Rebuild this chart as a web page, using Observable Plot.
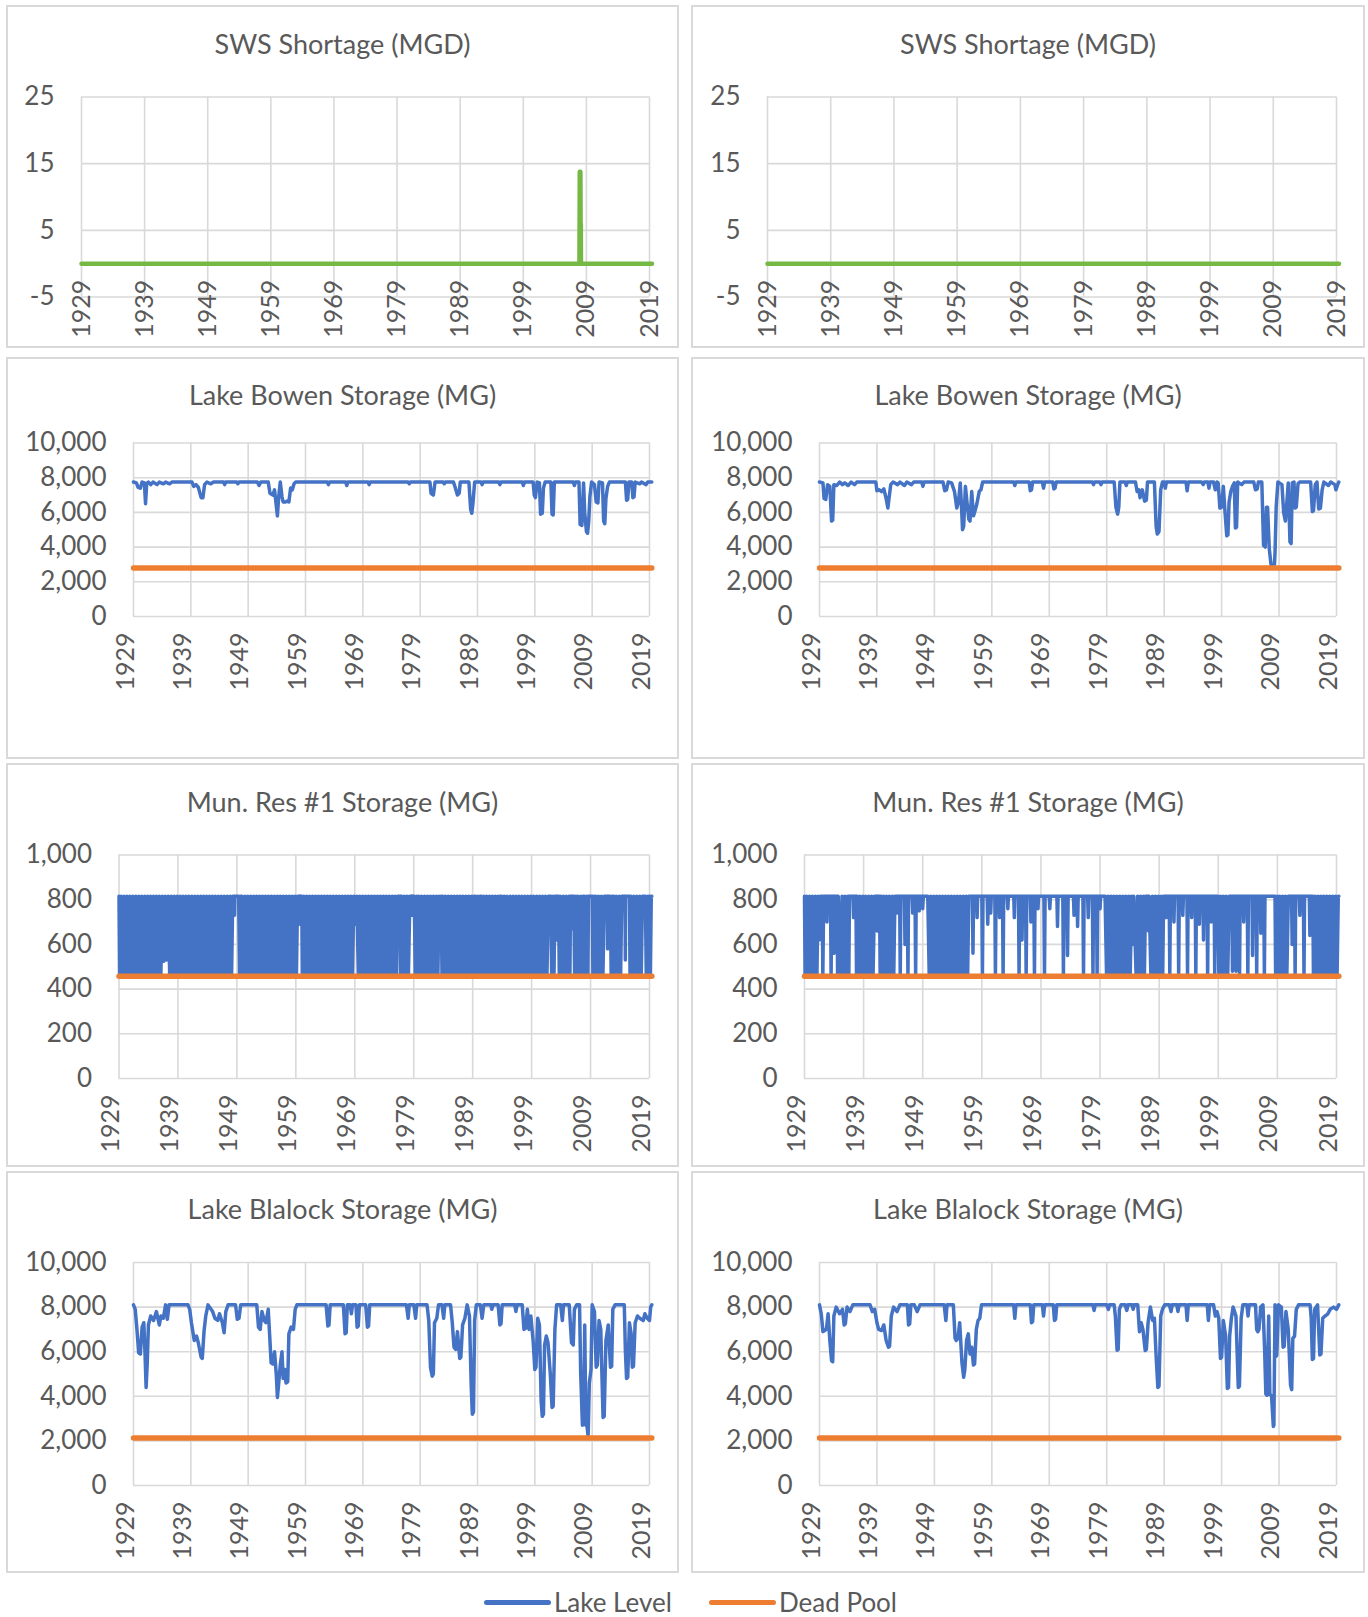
<!DOCTYPE html>
<html>
<head>
<meta charset="utf-8">
<script src="https://cdn.jsdelivr.net/npm/d3@7"></script>
<script src="https://cdn.jsdelivr.net/npm/@observablehq/plot@0.6"></script>
<style>
  html, body { margin: 0; padding: 0; background: #fff; }
  #root { position: relative; width: 1368px; height: 1617px; font-family: Lato, "Open Sans", sans-serif; color: #595959; }
  .box { position: absolute; border: 2px solid #d9d9d9; box-sizing: border-box; }
  .title { position: absolute; text-align: center; font-size: 27px; line-height: 34px; color: #595959; white-space: nowrap; }
  .legend-item { position: absolute; display: flex; align-items: center; font-size: 26px; color: #595959; }
  .swatch { width: 67px; height: 5px; border-radius: 3px; margin-right: 3px; }
</style>
</head>
<body>
<div id="root"></div>
<script>
// ---------- tick labels ----------
const yearTicks = [1929, 1939, 1949, 1959, 1969, 1979, 1989, 1999, 2009, 2019];
const swsTicks = [-5, 5, 15, 25];
const lakeTicks = [0, 2000, 4000, 6000, 8000, 10000];
const munTicks = [0, 200, 400, 600, 800, 1000];

// ---------- series names ----------
const seriesNames = ["Lake Level", "Dead Pool"];

// ---------- dead pool levels ----------
const bowenDeadPool = 2800;
const munDeadPool = 457;
const blalockDeadPool = 2130;
const seriesStart = 1929;
const seriesEnd = 2019.4;

// ---------- SWS shortage (MGD) ----------
const swsLeft = [[1929, 0], [2007.9, 0], [2007.95, 13.8], [2008.05, 13.8], [2008.08, 6], [2008.12, 6], [2008.14, 0], [2019.4, 0]];
const swsRight = [[1929, 0], [2019.4, 0]];

// ---------- Lake Bowen storage (MG) ----------
const bowenLeft = [
[1929.0,7750],[1929.5,7700],[1929.8,7450],[1930.2,7400],[1930.5,7750],[1930.9,7700],[1931.1,6500],[1931.3,7650],[1931.6,7750],[1932.0,7600],[1932.4,7750],[1933.1,7600],[1933.5,7750],[1934.2,7650],[1934.6,7750],[1935.3,7650],[1935.7,7750],
[1939.2,7750],[1939.5,7500],[1939.9,7600],[1940.3,7450],[1940.8,6850],[1941.1,6850],[1941.4,7600],[1941.8,7750],[1942.5,7650],[1942.9,7750],
[1944.7,7750],[1944.9,7600],[1945.1,7750],[1947.0,7750],[1947.2,7650],[1947.4,7750],
[1950.6,7750],[1950.9,7550],[1951.2,7750],[1952.5,7750],[1952.8,7100],[1953.3,7000],[1953.6,7300],[1953.9,6400],[1954.1,5800],[1954.3,6800],[1954.6,7750],[1954.9,6900],[1955.1,6600],[1955.5,6600],[1955.8,6650],[1956.1,6600],[1956.4,7400],[1956.7,7300],[1957.0,7650],[1957.3,7750],
[1962.8,7750],[1963.0,7600],[1963.2,7750],[1966.0,7750],[1966.2,7550],[1966.4,7750],[1969.9,7750],[1970.1,7600],[1970.3,7750],[1976.9,7750],[1977.1,7650],[1977.3,7750],
[1980.7,7750],[1980.9,7100],[1981.3,7000],[1981.6,7750],[1983.0,7750],[1983.2,7650],[1983.4,7750],
[1984.8,7750],[1985.1,7450],[1985.5,7000],[1985.8,7100],[1986.0,7750],[1987.5,7750],[1987.8,6200],[1988.0,5950],[1988.2,6500],[1988.5,7750],[1989.6,7750],[1989.8,7600],[1990.0,7750],
[1992.7,7750],[1992.9,7600],[1993.1,7750],[1996.8,7750],[1997.0,7550],[1997.2,7750],
[1998.7,7750],[1998.9,7000],[1999.1,6850],[1999.4,7750],[1999.8,7700],[2000.0,5900],[2000.3,5950],[2000.5,7400],[2000.8,7750],[2001.8,7750],[2002.0,5900],[2002.2,5850],[2002.4,7750],
[2005.7,7750],[2005.9,7550],[2006.1,7750],[2006.7,7750],[2006.9,5300],[2007.2,5250],[2007.5,7700],[2007.7,6000],[2008.0,4900],[2008.2,4800],[2008.4,5500],[2008.6,6900],[2008.9,7750],[2009.4,7600],[2009.7,6600],[2010.0,6550],[2010.2,7750],[2010.8,7700],[2011.0,5500],[2011.2,5350],[2011.4,6800],[2011.7,7500],[2012.0,7750],
[2014.8,7750],[2015.0,6700],[2015.2,6750],[2015.4,7750],[2015.9,7750],[2016.1,6850],[2016.3,6900],[2016.5,7750],[2017.3,7650],[2017.6,7750],[2018.4,7600],[2018.7,7750],[2019.4,7750]
];
const bowenRight = [
[1929.0,7750],[1929.6,7700],[1929.8,6800],[1930.1,6750],[1930.4,7600],[1930.8,7500],[1931.1,5500],[1931.3,5550],[1931.5,7600],[1932.0,7550],[1932.5,7750],[1933.0,7600],[1933.4,7700],[1934.0,7550],[1934.5,7750],[1935.1,7600],[1935.5,7750],
[1938.8,7750],[1939.0,7250],[1939.4,7300],[1939.8,7200],[1940.2,7350],[1940.6,6800],[1940.9,6250],[1941.1,6800],[1941.4,7600],[1941.8,7750],[1942.6,7600],[1943.0,7750],[1943.8,7550],[1944.2,7750],[1945.0,7600],[1945.4,7750],
[1946.8,7750],[1947.0,7500],[1947.2,7750],
[1950.5,7750],[1950.8,7250],[1951.1,7300],[1951.4,7750],[1952.0,7700],[1952.5,7200],[1952.9,6250],[1953.2,6600],[1953.5,7700],[1953.7,6500],[1953.9,5000],[1954.1,5200],[1954.4,7500],[1954.7,6500],[1955.0,5600],[1955.2,5500],[1955.5,7200],[1955.8,5800],[1956.0,6000],[1956.4,6500],[1956.8,7200],[1957.1,7300],[1957.4,7750],
[1962.8,7750],[1963.0,7550],[1963.2,7750],[1965.5,7750],[1965.7,7250],[1965.9,7300],[1966.1,7750],[1967.8,7750],[1968.0,7400],[1968.2,7750],[1969.6,7750],[1969.8,7350],[1970.0,7400],[1970.2,7750],
[1976.5,7750],[1976.7,7600],[1976.9,7750],[1977.8,7750],[1978.0,7600],[1978.2,7750],
[1980.3,7750],[1980.6,6300],[1980.9,5900],[1981.1,6300],[1981.3,7750],[1982.2,7750],[1982.4,7550],[1982.6,7750],[1984.0,7750],[1984.3,7200],[1984.6,7300],[1984.8,6850],[1985.2,7300],[1985.6,6650],[1985.9,6700],[1986.1,7750],[1987.3,7750],[1987.6,5200],[1987.8,4750],[1988.1,4900],[1988.4,7300],[1988.7,7750],[1989.0,7750],[1989.2,7400],[1989.4,7750],
[1992.8,7750],[1993.0,7250],[1993.2,7750],[1995.5,7750],[1995.8,7600],[1996.0,7750],[1996.6,7750],[1996.8,7400],[1997.0,7750],[1997.6,7750],[1997.9,7300],[1998.2,7750],[1998.4,7700],[1998.7,6250],[1999.0,6300],[1999.3,7500],[1999.6,6000],[1999.9,4650],[2000.1,4700],[2000.3,6600],[2000.6,7200],[2000.9,7500],[2001.2,7700],[2001.4,5100],[2001.6,5150],[2001.8,7750],[2002.5,7600],[2002.9,7750],
[2004.6,7750],[2004.9,7300],[2005.2,7350],[2005.4,7750],[2006.0,7750],[2006.3,4100],[2006.6,4000],[2006.8,6300],[2007.0,6300],[2007.3,3900],[2007.6,3000],[2008.0,2950],[2008.2,3000],[2008.3,3700],[2008.5,6300],[2008.8,7750],[2009.5,7600],[2009.8,6000],[2010.1,5500],[2010.3,6300],[2010.6,7700],[2010.9,4300],[2011.1,4200],[2011.3,7700],[2011.6,7750],[2011.8,6250],[2012.0,6300],[2012.3,7650],[2012.6,7750],
[2014.5,7750],[2014.8,6050],[2015.0,6100],[2015.3,7600],[2015.6,7750],[2015.9,6200],[2016.2,6250],[2016.5,7300],[2016.8,7750],[2017.6,7550],[2018.0,7750],[2018.7,7600],[2018.9,7300],[2019.2,7600],[2019.4,7750]
];

// ---------- Mun. Res #1 storage (MG): flat [year, level, year, level, ...] ----------
const munLeft = [
1929,815, 1929.1,462, 1929.35,815, 1929.6,462, 1929.85,815,
1930.1,462, 1930.35,815, 1930.6,462, 1930.85,815,
1931.1,462, 1931.35,815, 1931.6,462, 1931.85,815,
1932.1,462, 1932.35,815, 1932.6,462, 1932.85,815,
1933.1,462, 1933.35,815, 1933.6,462, 1933.85,815,
1934.1,462, 1934.35,815, 1934.6,462, 1934.85,815,
1935.1,462, 1935.35,815, 1935.6,462, 1935.85,815,
1936.1,462, 1936.35,815, 1936.6,525, 1936.85,815,
1937.1,530, 1937.35,815, 1937.6,462, 1937.85,815,
1938.1,462, 1938.35,815, 1938.6,462, 1938.85,815,
1939.1,462, 1939.35,815, 1939.6,462, 1939.85,815,
1940.1,462, 1940.35,815, 1940.6,462, 1940.85,815,
1941.1,462, 1941.35,815, 1941.6,462, 1941.85,815,
1942.1,462, 1942.35,815, 1942.6,462, 1942.85,815,
1943.1,462, 1943.35,815, 1943.6,462, 1943.85,815,
1944.1,462, 1944.35,815, 1944.6,462, 1944.85,815,
1945.1,462, 1945.35,815, 1945.6,462, 1945.85,815,
1946.1,462, 1946.35,815, 1946.6,462, 1946.85,815,
1947.1,462, 1947.35,815, 1947.6,462, 1947.85,815,
1948.1,462, 1948.3,815, 1948.55,815, 1948.6,730, 1948.65,815, 1949.3,815,
1949.45,462, 1949.6,815, 1949.75,462, 1949.85,815,
1950.1,462, 1950.35,815, 1950.6,462, 1950.85,815,
1951.1,462, 1951.35,815, 1951.6,462, 1951.85,815,
1952.1,462, 1952.35,815, 1952.6,462, 1952.85,815,
1953.1,462, 1953.35,815, 1953.6,462, 1953.85,815,
1954.1,462, 1954.35,815, 1954.6,462, 1954.85,815,
1955.1,462, 1955.35,815, 1955.6,462, 1955.85,815,
1956.1,462, 1956.35,815, 1956.6,462, 1956.85,815,
1957.1,462, 1957.35,815, 1957.6,462, 1957.85,815,
1958.1,462, 1958.35,815, 1958.6,462, 1958.85,815,
1959.1,462, 1959.3,815, 1959.65,815, 1959.7,690, 1959.75,815, 1960.0,815,
1960.1,462, 1960.35,815, 1960.6,462, 1960.85,815,
1961.1,462, 1961.35,815, 1961.6,462, 1961.85,815,
1962.1,462, 1962.35,815, 1962.6,462, 1962.85,815,
1963.1,462, 1963.35,815, 1963.6,462, 1963.85,815,
1964.1,462, 1964.35,815, 1964.6,462, 1964.85,815,
1965.1,462, 1965.35,815, 1965.6,462, 1965.85,815,
1966.1,462, 1966.35,815, 1966.6,462, 1966.85,815,
1967.1,462, 1967.35,815, 1967.6,462, 1967.85,815,
1968.1,462, 1968.35,815, 1968.6,462, 1968.85,815,
1969.1,690, 1969.35,815, 1969.6,462, 1969.85,815,
1970.1,462, 1970.35,815, 1970.6,462, 1970.85,815,
1971.1,462, 1971.35,815, 1971.6,462, 1971.85,815,
1972.1,462, 1972.35,815, 1972.6,462, 1972.85,815,
1973.1,462, 1973.35,815, 1973.6,462, 1973.85,815,
1974.1,462, 1974.35,815, 1974.6,462, 1974.85,815,
1975.1,462, 1975.35,815, 1975.6,462, 1975.85,815,
1976.1,462, 1976.3,815, 1976.7,815, 1976.8,462, 1976.9,815,
1977.1,462, 1977.35,815, 1977.6,462, 1977.85,815,
1978.1,462, 1978.35,815, 1978.7,815, 1978.75,730, 1978.8,815, 1979.1,815,
1979.25,462, 1979.5,815, 1979.65,462, 1979.85,815,
1980.1,462, 1980.35,815, 1980.6,462, 1980.85,815,
1981.1,462, 1981.35,815, 1981.6,462, 1981.85,815,
1982.1,462, 1982.35,815, 1982.6,462, 1982.85,815,
1983.1,462, 1983.3,815, 1983.45,650, 1983.65,815, 1983.8,462, 1983.9,815,
1984.1,462, 1984.35,815, 1984.6,462, 1984.85,815,
1985.1,462, 1985.35,815, 1985.6,462, 1985.85,815,
1986.1,462, 1986.35,815, 1986.6,462, 1986.85,815,
1987.1,462, 1987.35,815, 1987.6,462, 1987.85,815,
1988.1,462, 1988.35,815, 1988.6,462, 1988.85,815,
1989.1,462, 1989.25,815, 1989.45,815, 1989.6,462, 1989.85,815,
1990.1,462, 1990.25,815, 1990.45,815, 1990.6,462, 1990.85,815,
1991.1,462, 1991.35,815, 1991.6,462, 1991.85,815,
1992.1,462, 1992.35,815, 1992.6,462, 1992.85,815,
1993.1,462, 1993.35,815, 1993.6,462, 1993.7,815, 1993.9,815,
1994.1,462, 1994.35,815, 1994.6,462, 1994.85,815,
1995.1,462, 1995.35,815, 1995.6,462, 1995.85,815,
1996.1,462, 1996.35,815, 1996.6,462, 1996.85,815,
1997.1,462, 1997.35,815, 1997.6,462, 1997.85,815,
1998.1,462, 1998.35,815, 1998.6,462, 1998.85,815,
1999.1,462, 1999.35,815, 1999.6,462, 1999.85,815,
2000.1,462, 2000.35,815, 2000.6,462, 2000.85,815,
2001.1,462, 2001.35,815, 2001.6,462, 2001.85,815,
2002.25,815, 2002.4,462, 2002.6,815, 2002.8,462, 2002.95,815,
2003.15,815, 2003.2,620, 2003.25,815, 2003.55,815, 2003.7,462, 2003.85,815,
2004.1,462, 2004.35,815, 2004.6,462, 2004.85,815,
2005.1,462, 2005.35,815, 2005.5,462, 2005.6,815, 2005.85,815, 2005.9,670, 2005.95,815, 2006.15,815,
2006.3,462, 2006.5,815, 2006.7,462, 2006.85,815,
2007.1,462, 2007.35,815, 2007.6,462, 2007.75,815, 2007.95,815,
2008.1,462, 2008.35,815, 2008.55,462, 2008.65,815, 2009.3,815,
2009.4,462, 2009.6,815, 2009.8,462, 2009.9,815,
2010.1,462, 2010.35,815, 2010.6,462, 2010.85,815,
2011.1,462, 2011.35,815, 2011.85,815, 2011.9,580, 2011.95,815, 2012.35,815,
2012.5,462, 2012.7,815, 2012.85,462, 2012.95,815,
2013.1,462, 2013.35,815, 2013.6,462, 2013.85,815,
2014.1,462, 2014.3,815, 2014.85,815, 2014.9,530, 2014.95,815, 2015.6,815,
2015.7,462, 2015.85,815,
2016.1,462, 2016.35,815, 2016.6,462, 2016.85,815,
2017.1,462, 2017.35,815, 2017.6,462, 2017.8,815, 2018.3,815,
2018.45,462, 2018.7,815, 2018.85,462,
2019.0,815, 2019.15,462, 2019.3,815, 2019.4,815
];
const munRight = [
1929,815, 1929.1,462, 1929.35,815, 1929.6,462, 1929.85,815,
1930.1,462, 1930.35,815, 1930.6,462, 1930.85,815,
1931.1,462, 1931.3,815, 1931.5,620, 1931.7,815,
1932.0,815, 1932.1,462, 1932.25,815, 1932.7,815, 1932.8,700, 1932.9,815,
1933.4,815, 1933.5,462, 1933.6,815, 1933.9,815, 1934.0,560, 1934.1,815, 1934.5,815, 1934.6,462, 1934.7,815,
1935.1,462, 1935.35,815, 1935.6,462, 1935.85,815,
1936.1,462, 1936.35,815, 1936.5,462, 1936.6,815,
1937.2,815, 1937.3,720, 1937.4,815, 1937.7,815, 1937.8,462, 1937.9,815,
1938.2,462, 1938.35,815, 1938.6,462, 1938.85,815,
1939.1,462, 1939.35,815, 1939.6,462, 1939.85,815,
1940.1,462, 1940.35,815, 1940.6,462, 1940.85,815,
1941.2,815, 1941.3,660, 1941.4,815, 1941.7,815, 1941.8,462, 1941.95,815,
1942.1,462, 1942.35,815, 1942.6,462, 1942.85,815,
1943.1,462, 1943.35,815, 1943.6,462, 1943.85,815,
1944.1,462, 1944.3,815, 1944.5,815, 1944.6,740, 1944.7,815,
1945.1,815, 1945.2,462, 1945.3,815, 1945.9,815, 1946.0,600, 1946.1,815, 1946.4,815, 1946.5,462, 1946.6,815,
1947.2,815, 1947.3,740, 1947.4,815, 1947.7,815, 1947.8,462, 1947.9,815,
1948.3,815, 1948.4,750, 1948.5,815, 1948.9,815, 1949.0,760, 1949.1,815, 1949.85,815,
1950.1,462, 1950.35,815, 1950.6,462, 1950.85,815,
1951.1,462, 1951.35,815, 1951.6,462, 1951.85,815,
1952.1,462, 1952.35,815, 1952.6,462, 1952.85,815,
1953.1,462, 1953.35,815, 1953.6,462, 1953.85,815,
1954.1,462, 1954.35,815, 1954.6,462, 1954.85,815,
1955.1,462, 1955.35,815, 1955.6,462, 1955.85,815,
1956.1,462, 1956.35,815, 1956.6,462, 1956.8,815,
1957.4,815, 1957.5,560, 1957.6,815, 1958.1,815, 1958.2,720, 1958.3,815,
1959.0,815, 1959.1,462, 1959.2,815, 1959.9,815, 1960.0,690, 1960.1,815, 1960.4,815, 1960.5,740, 1960.6,815,
1961.2,815, 1961.3,462, 1961.4,815, 1961.9,815, 1962.0,720, 1962.1,815, 1962.5,815, 1962.6,462, 1962.7,815,
1963.3,815, 1963.4,760, 1963.5,815, 1964.4,815, 1964.5,720, 1964.6,815,
1965.2,815, 1965.3,462, 1965.4,815, 1965.7,815, 1965.8,620, 1965.9,815, 1966.4,815, 1966.5,462, 1966.6,815,
1967.2,815, 1967.3,700, 1967.4,815, 1967.8,815, 1967.9,462, 1968.0,815, 1968.4,815, 1968.5,760, 1968.6,815,
1969.5,815, 1969.6,462, 1969.7,815, 1970.4,815, 1970.5,760, 1970.6,815,
1971.7,815, 1971.8,680, 1971.9,815, 1972.7,815, 1972.8,462, 1972.9,815,
1973.4,815, 1973.5,550, 1973.6,815, 1974.5,815, 1974.6,730, 1974.7,815, 1975.1,815, 1975.2,680, 1975.3,815,
1976.1,815, 1976.2,462, 1976.3,815, 1976.9,815, 1977.0,720, 1977.1,815, 1977.7,815, 1977.8,462, 1977.9,815,
1978.4,815, 1978.5,462, 1978.6,815, 1978.9,815, 1979.0,760, 1979.1,815, 1979.85,815,
1980.1,462, 1980.35,815, 1980.6,462, 1980.85,815,
1981.1,462, 1981.35,815, 1981.6,462, 1981.85,815,
1982.1,462, 1982.35,815, 1982.6,462, 1982.85,815,
1983.1,462, 1983.35,815, 1983.6,462, 1983.85,815,
1984.1,462, 1984.35,815, 1984.5,600, 1984.7,815,
1985.1,462, 1985.35,815, 1985.6,462, 1985.85,815,
1986.1,462, 1986.35,815, 1986.5,462, 1986.7,815,
1987.1,815, 1987.2,660, 1987.3,815, 1987.6,462, 1987.85,815,
1988.1,462, 1988.35,815, 1988.6,462, 1988.85,815,
1989.1,462, 1989.35,815, 1989.6,462, 1989.75,815,
1990.1,815, 1990.2,720, 1990.3,815, 1990.7,815, 1990.8,462, 1990.9,815,
1991.4,815, 1991.5,700, 1991.6,815, 1992.2,815, 1992.3,462, 1992.4,815,
1992.9,815, 1993.0,730, 1993.1,815, 1993.7,815, 1993.8,462, 1993.9,815,
1994.4,815, 1994.5,720, 1994.6,815, 1995.1,815, 1995.2,462, 1995.3,815,
1995.7,815, 1995.8,690, 1995.9,815, 1996.4,815, 1996.5,620, 1996.6,815,
1997.1,815, 1997.2,462, 1997.3,815, 1997.7,815, 1997.8,700, 1997.9,815, 1998.3,815, 1998.4,462, 1998.5,815,
1998.9,815, 1999.1,462, 1999.35,815, 1999.6,462, 1999.85,815,
2000.1,462, 2000.35,815, 2000.6,462, 2000.85,815,
2001.3,815, 2001.4,480, 2001.5,815, 2001.9,815, 2002.0,480, 2002.1,815, 2002.5,815, 2002.6,462, 2002.7,815,
2003.2,815, 2003.3,700, 2003.4,815, 2003.9,815, 2004.0,462, 2004.1,815, 2004.7,815, 2004.8,550, 2004.9,815,
2005.4,815, 2005.5,462, 2005.6,815, 2006.1,815, 2006.2,650, 2006.3,815, 2006.7,815, 2006.8,462, 2006.9,815,
2008.6,815, 2008.7,470, 2008.95,815,
2009.1,470, 2009.35,815, 2009.6,462, 2009.85,815,
2010.1,462, 2010.35,815, 2010.6,462, 2010.85,815,
2011.4,815, 2011.5,600, 2011.6,815, 2011.9,815, 2012.0,462, 2012.1,815, 2012.7,815, 2012.8,730, 2012.9,815,
2013.4,815, 2013.5,462, 2013.6,815, 2014.4,815, 2014.5,640, 2014.6,815,
2015.0,815, 2015.1,462, 2015.35,815, 2015.6,462, 2015.85,815,
2016.1,462, 2016.35,815, 2016.6,462, 2016.85,815,
2017.1,462, 2017.35,815, 2017.6,462, 2017.85,815,
2018.1,462, 2018.35,815, 2018.6,462, 2018.85,815,
2019.1,462, 2019.3,815, 2019.4,815
];

// ---------- Lake Blalock storage (MG) ----------
const blalockLeft = [
[1929.0,8100],[1929.3,7900],[1929.6,7000],[1929.9,5950],[1930.2,5900],[1930.5,7100],[1930.8,7300],[1931.0,6000],[1931.2,4400],[1931.4,5500],[1931.6,7200],[1932.0,7600],[1932.5,7400],[1933.0,7800],[1933.5,7200],[1933.8,7600],[1934.2,7500],[1934.6,8100],[1934.9,7450],[1935.2,8100],
[1938.5,8100],[1938.8,7900],[1939.1,7300],[1939.6,6500],[1940.0,6700],[1940.3,6400],[1940.8,5750],[1941.0,5700],[1941.3,6900],[1941.6,7600],[1942.0,8100],[1942.8,7800],[1943.2,7500],[1943.7,7400],[1944.0,7700],[1944.5,7300],[1944.8,6850],[1945.1,7800],[1945.5,8100],[1946.8,8100],[1947.1,7450],[1947.4,7500],[1947.7,8100],
[1950.5,8100],[1950.8,7100],[1951.1,7000],[1951.4,7800],[1951.8,7400],[1952.1,7300],[1952.5,7900],[1952.8,6500],[1953.0,5500],[1953.3,5450],[1953.6,6000],[1953.9,5000],[1954.1,3950],[1954.3,4500],[1954.6,5400],[1954.9,6000],[1955.1,4800],[1955.4,5200],[1955.6,4600],[1955.9,4650],[1956.1,6800],[1956.5,7100],[1956.9,7000],[1957.2,7900],[1957.5,8100],
[1962.6,8100],[1962.9,7150],[1963.1,7200],[1963.3,8100],[1965.6,8100],[1965.9,6800],[1966.1,6850],[1966.3,8100],[1966.8,8100],[1967.0,7700],[1967.2,8100],[1967.8,8100],[1968.0,7100],[1968.2,7150],[1968.4,8100],[1969.5,8100],[1969.8,7100],[1970.0,7150],[1970.2,8100],
[1976.6,8100],[1976.9,7500],[1977.1,8100],[1977.9,8100],[1978.2,7500],[1978.4,8100],
[1980.2,8100],[1980.5,7400],[1980.8,5300],[1981.1,4900],[1981.3,5000],[1981.5,7300],[1981.9,7500],[1982.2,8100],[1982.8,8100],[1983.1,7500],[1983.3,8100],[1984.3,8100],[1984.6,7300],[1984.9,6200],[1985.2,6100],[1985.5,6900],[1985.9,5700],[1986.1,5750],[1986.4,7200],[1986.8,7500],[1987.2,8100],[1987.6,7600],[1987.9,4500],[1988.1,3200],[1988.3,3300],[1988.5,7400],[1988.8,8100],[1989.5,8100],[1989.8,7500],[1990.1,8100],[1991.3,8100],[1991.5,7900],[1991.7,8100],
[1992.6,8100],[1992.9,7200],[1993.1,7250],[1993.3,8100],[1995.5,8100],[1995.7,7800],[1995.9,8100],[1996.8,8100],[1997.1,7000],[1997.4,7050],[1997.7,7900],[1998.0,7000],[1998.3,7600],[1998.7,6500],[1999.0,5200],[1999.2,5300],[1999.5,7500],[1999.8,7200],[2000.1,3800],[2000.3,3100],[2000.5,3200],[2000.7,6300],[2001.0,6700],[2001.3,6400],[2001.7,5000],[2002.0,3500],[2002.2,3550],[2002.5,7000],[2002.8,8100],[2003.5,8100],[2003.8,7400],[2004.0,8100],[2005.0,8100],[2005.4,6400],[2005.7,6300],[2005.9,7900],[2006.3,8100],
[2006.8,8100],[2007.0,5000],[2007.3,2700],[2007.5,2750],[2007.7,7200],[2007.9,2700],[2008.1,2650],[2008.3,2200],[2008.5,4600],[2008.8,5200],[2009.0,8100],[2009.4,7800],[2009.7,5300],[2009.9,5400],[2010.2,7400],[2010.5,7000],[2010.9,3050],[2011.1,3100],[2011.4,6500],[2011.8,7200],[2012.2,5300],[2012.4,5350],[2012.6,7900],[2013.0,8100],
[2014.6,8100],[2014.8,6000],[2015.0,4800],[2015.2,4850],[2015.5,7300],[2015.8,6800],[2016.0,5300],[2016.2,5350],[2016.5,7300],[2016.9,7600],[2017.3,7500],[2017.9,7400],[2018.2,7700],[2018.6,7500],[2019.0,7400],[2019.2,8000],[2019.4,8100]
];
const blalockRight = [
[1929.0,8100],[1929.3,7700],[1929.6,6900],[1929.9,6950],[1930.2,7000],[1930.5,7700],[1930.8,6500],[1931.1,5600],[1931.3,5550],[1931.5,7600],[1931.9,8000],[1932.5,7700],[1933.0,7900],[1933.3,7200],[1933.5,7250],[1933.8,8000],[1934.3,7800],[1934.8,8100],
[1937.8,8100],[1938.2,7800],[1938.6,7900],[1939.0,7300],[1939.3,7000],[1939.8,6950],[1940.2,7200],[1940.6,6500],[1941.0,6200],[1941.2,6250],[1941.5,7600],[1941.9,8000],[1942.5,7800],[1943.0,8100],[1944.3,8100],[1944.5,7200],[1944.7,7250],[1944.9,8100],[1945.5,8100],[1946.0,7800],[1946.5,8100],
[1950.7,8100],[1951.0,7400],[1951.2,8100],[1952.3,8100],[1952.6,6600],[1952.8,6500],[1953.1,6600],[1953.4,7300],[1953.8,5500],[1954.1,4850],[1954.3,5200],[1954.6,6500],[1954.9,6800],[1955.2,5900],[1955.5,6200],[1955.8,5400],[1956.0,5450],[1956.3,7000],[1956.6,7400],[1956.9,7500],[1957.2,8100],
[1962.8,8100],[1963.0,7500],[1963.2,8100],[1965.7,8100],[1965.9,7300],[1966.1,7350],[1966.3,8100],[1967.8,8100],[1968.0,7600],[1968.2,8100],[1969.7,8100],[1969.9,7400],[1970.1,7450],[1970.3,8100],
[1976.6,8100],[1976.8,7850],[1977.0,8100],[1979.0,8100],[1979.3,7900],[1979.5,8100],[1980.3,8100],[1980.5,7600],[1980.8,6070],[1981.0,6100],[1981.2,7900],[1981.5,8100],[1982.2,8100],[1982.5,7850],[1982.7,8100],[1983.4,8100],[1983.6,7900],[1983.8,8100],
[1984.4,8100],[1984.7,6900],[1985.0,7300],[1985.3,7000],[1985.7,6050],[1985.9,6100],[1986.2,7300],[1986.6,8000],[1987.0,7400],[1987.3,7500],[1987.6,5800],[1987.9,4400],[1988.1,4450],[1988.4,7600],[1988.7,7900],[1989.1,8100],[1989.9,8100],[1990.2,7800],[1990.4,8100],[1991.2,8100],[1991.4,7800],[1991.6,8100],
[1992.8,8100],[1993.0,7400],[1993.2,8100],[1996.5,8100],[1996.7,7400],[1996.9,8100],[1997.6,8100],[1997.9,7600],[1998.2,7800],[1998.5,7500],[1998.8,5700],[1999.0,5750],[1999.3,7400],[1999.7,6700],[2000.0,4350],[2000.2,4400],[2000.4,6700],[2000.7,7500],[2001.0,8000],[2001.5,7600],[2001.9,4400],[2002.1,4450],[2002.4,7500],[2002.7,8100],[2003.4,8100],[2003.6,7600],[2003.8,8100],
[2004.9,8100],[2005.1,7000],[2005.3,6900],[2005.5,7000],[2005.8,8000],[2006.2,8100],[2006.5,6000],[2006.7,4100],[2006.9,4050],[2007.2,7600],[2007.4,4100],[2007.7,4000],[2008.0,2650],[2008.1,2700],[2008.3,8100],[2008.5,5800],[2008.6,5850],[2008.9,8100],[2009.4,8000],[2009.7,6200],[2009.9,6250],[2010.2,7800],[2010.6,7000],[2011.0,4500],[2011.2,4300],[2011.4,6600],[2011.7,6700],[2012.0,7900],[2012.4,8100],
[2014.4,8100],[2014.6,7500],[2014.8,5650],[2015.0,5700],[2015.2,7900],[2015.7,8100],[2016.1,5850],[2016.3,5900],[2016.6,7500],[2017.0,7600],[2017.5,7700],[2017.9,7900],[2018.5,8000],[2019.0,7900],[2019.4,8100]
];

// ---------- styling ----------
const COLORS = { level: "#4472C4", dead: "#ED7D31", sws: "#75B843", grid: "#d9d9d9", text: "#595959" };
const fmtComma = d3.format(",");
const fmt = d => (d < 0 ? "-" + fmtComma(-d) : fmtComma(d));
const pairs = flat => { const out = []; for (let i = 0; i < flat.length; i += 2) out.push([flat[i], flat[i + 1]]); return out; };

// layout (page pixels)
const colL = { x: 6, w: 673 }, colR = { x: 691, w: 674 };
const rows = [ { y: 5, h: 343 }, { y: 357, h: 402 }, { y: 763, h: 404 }, { y: 1171, h: 402 } ];

const panels = [
  { col: colL, row: 0, title: "SWS Shortage (MGD)", x0: 81, x1: 649, yT: 96.5, yB: 296.5, yDomain: [-5, 25], yTicks: swsTicks, level: swsLeft, levelColor: COLORS.sws, levelWidth: 4.5, xLabelAt: 0, titleY: 44 },
  { col: colR, row: 0, title: "SWS Shortage (MGD)", x0: 767, x1: 1336, yT: 96.5, yB: 296.5, yDomain: [-5, 25], yTicks: swsTicks, level: swsRight, levelColor: COLORS.sws, levelWidth: 4.5, xLabelAt: 0, titleY: 44 },
  { col: colL, row: 1, title: "Lake Bowen Storage (MG)", x0: 133, x1: 649, yT: 442.5, yB: 616, yDomain: [0, 10000], yTicks: lakeTicks, level: bowenLeft, dead: bowenDeadPool, titleY: 395 },
  { col: colR, row: 1, title: "Lake Bowen Storage (MG)", x0: 819, x1: 1336, yT: 442.5, yB: 616, yDomain: [0, 10000], yTicks: lakeTicks, level: bowenRight, dead: bowenDeadPool, titleY: 395 },
  { col: colL, row: 2, title: "Mun. Res #1 Storage (MG)", x0: 118.5, x1: 649, yT: 854.5, yB: 1078, yDomain: [0, 1000], yTicks: munTicks, level: pairs(munLeft), dead: munDeadPool, titleY: 802 },
  { col: colR, row: 2, title: "Mun. Res #1 Storage (MG)", x0: 804, x1: 1336, yT: 854.5, yB: 1078, yDomain: [0, 1000], yTicks: munTicks, level: pairs(munRight), dead: munDeadPool, titleY: 802 },
  { col: colL, row: 3, title: "Lake Blalock Storage (MG)", x0: 133, x1: 649, yT: 1262, yB: 1485, yDomain: [0, 10000], yTicks: lakeTicks, level: blalockLeft, dead: blalockDeadPool, titleY: 1209 },
  { col: colR, row: 3, title: "Lake Blalock Storage (MG)", x0: 819, x1: 1336, yT: 1262, yB: 1485, yDomain: [0, 10000], yTicks: lakeTicks, level: blalockRight, dead: blalockDeadPool, titleY: 1209 }
];

const root = document.getElementById("root");

for (const p of panels) {
  const bx = p.col.x, bw = p.col.w, by = rows[p.row].y, bh = rows[p.row].h;

  const box = document.createElement("div");
  box.className = "box";
  Object.assign(box.style, { left: bx + "px", top: by + "px", width: bw + "px", height: bh + "px" });
  root.appendChild(box);

  const title = document.createElement("div");
  title.className = "title";
  title.textContent = p.title;
  Object.assign(title.style, { left: bx + "px", width: bw + "px", top: (p.titleY - 17) + "px" });
  root.appendChild(title);

  const xLabelOpts = p.xLabelAt != null
    ? { x: d => d, y: () => p.xLabelAt }
    : { x: d => d, frameAnchor: "bottom" };

  const marks = [
    Plot.ruleY(p.yTicks, { y: d => d, stroke: COLORS.grid, strokeWidth: 1.6 }),
    Plot.ruleX(yearTicks, { x: d => d, stroke: COLORS.grid, strokeWidth: 1.6 }),
    Plot.text(p.yTicks, { y: d => d, text: d => fmt(d), frameAnchor: "left", textAnchor: "end", dx: -27, fill: COLORS.text, fontSize: 26 }),
    Plot.text(yearTicks, { ...xLabelOpts, text: d => String(d), rotate: -90, textAnchor: "end", dy: 16, fill: COLORS.text, fontSize: 25 }),
    Plot.line(p.level, { x: d => d[0], y: d => d[1], stroke: p.levelColor || COLORS.level, strokeWidth: p.levelWidth || 3.5 })
  ];
  if (p.dead != null) {
    marks.push(Plot.line([[seriesStart, p.dead], [seriesEnd, p.dead]], { x: d => d[0], y: d => d[1], stroke: COLORS.dead, strokeWidth: 5.5 }));
  }

  const svg = Plot.plot({
    width: bw, height: bh,
    marginLeft: p.x0 - bx, marginRight: bx + bw - p.x1,
    marginTop: p.yT - by, marginBottom: by + bh - p.yB,
    x: { domain: [seriesStart, 2019], axis: null },
    y: { domain: p.yDomain, axis: null },
    style: { background: "transparent", overflow: "visible", fontFamily: "Lato, 'Open Sans', sans-serif", color: COLORS.text },
    marks
  });
  Object.assign(svg.style, { position: "absolute", left: bx + "px", top: by + "px", maxWidth: "none" });
  root.appendChild(svg);
}

// legend
const legendItems = [
  { name: seriesNames[0], color: COLORS.level, x: 484 },
  { name: seriesNames[1], color: COLORS.dead, x: 709 }
];
for (const it of legendItems) {
  const el = document.createElement("div");
  el.className = "legend-item";
  Object.assign(el.style, { left: it.x + "px", top: "1585px", height: "34px" });
  const sw = document.createElement("div");
  sw.className = "swatch";
  sw.style.background = it.color;
  const tx = document.createElement("span");
  tx.textContent = it.name;
  el.appendChild(sw); el.appendChild(tx);
  root.appendChild(el);
}
</script>
</body>
</html>
